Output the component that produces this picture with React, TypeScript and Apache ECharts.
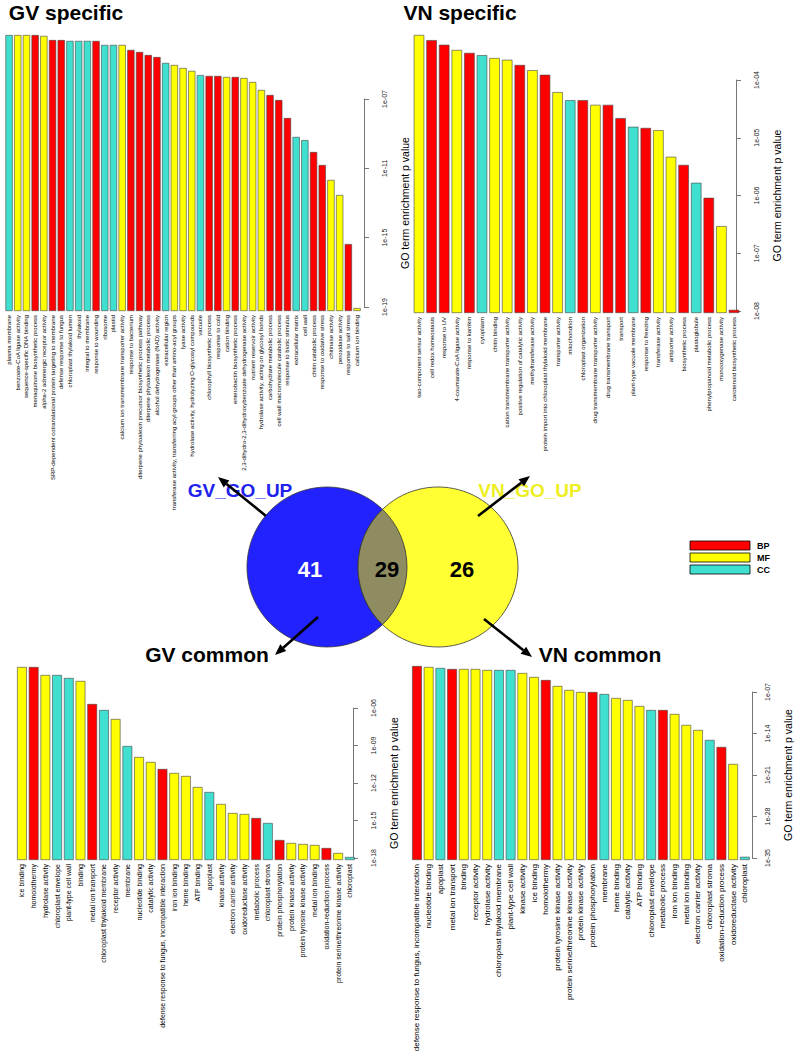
import React, { useEffect, useRef } from "react";
import * as echarts from "echarts";

const COLORS: Record<string, string> = { BP: "#FF0000", MF: "#FFFF00", CC: "#40E0D0" };

// ---------- GV specific ----------
const gvSpecificTerms = [
  "plasma membrane",
  "benzoate-CoA ligase activity",
  "sequence-specific DNA binding",
  "menaquinone biosynthetic process",
  "alpha-2 adrenergic receptor activity",
  "SRP-dependent cotranslational protein targeting to membrane",
  "defense response to fungus",
  "chloroplast thylakoid lumen",
  "thylakoid",
  "integral to membrane",
  "response to wounding",
  "ribosome",
  "plastid",
  "calcium ion transmembrane transporter activity",
  "response to bacterium",
  "diterpene phytoalexin precursor biosynthetic process pathway",
  "diterpene phytoalexin metabolic process",
  "alcohol dehydrogenase (NAD) activity",
  "extracellular region",
  "transferase activity, transferring acyl groups other than amino-acyl groups",
  "lyase activity",
  "hydrolase activity, hydrolyzing O-glycosyl compounds",
  "vacuole",
  "chlorophyll biosynthetic process",
  "response to cold",
  "cation binding",
  "enterobactin biosynthetic process",
  "2,3-dihydro-2,3-dihydroxybenzoate dehydrogenase activity",
  "nutrient reservoir activity",
  "hydrolase activity, acting on glycosyl bonds",
  "carbohydrate metabolic process",
  "cell wall macromolecule catabolic process",
  "response to biotic stimulus",
  "extracellular matrix",
  "cell wall",
  "chitin catabolic process",
  "response to oxidative stress",
  "chitinase activity",
  "peroxidase activity",
  "response to salt stress",
  "calcium ion binding",
];
const gvSpecificClass = [
  "CC", "MF", "MF", "BP", "MF", "BP", "BP", "CC", "CC", "CC", "BP", "CC", "CC", "MF", "BP", "BP", "BP", "BP", "CC", "MF",
  "MF", "MF", "CC", "BP", "BP", "MF", "BP", "MF", "MF", "MF", "BP", "BP", "BP", "CC", "CC", "BP", "BP", "MF", "MF", "BP", "MF",
];
const gvSpecificLog10P = [
  -3.31, -3.31, -3.31, -3.31, -3.36, -3.6, -3.6, -3.65, -3.65, -3.65, -3.65, -3.88, -3.88, -3.88, -4.17, -4.29, -4.46, -4.58,
  -4.92, -5.04, -5.21, -5.38, -5.62, -5.67, -5.67, -5.73, -5.73, -5.79, -6.02, -6.48, -6.77, -7.06, -8.1, -9.19, -9.37,
  -10.06, -10.81, -11.67, -12.54, -15.37, -19.06,
];
const gvSpecificTicks = [-19, -15, -11, -7];

// ---------- VN specific ----------
const vnSpecificTerms = [
  "two-component sensor activity",
  "cell redox homeostasis",
  "response to UV",
  "4-coumarate-CoA ligase activity",
  "response to karrikin",
  "cytoplasm",
  "chitin binding",
  "cation transmembrane transporter activity",
  "positive regulation of catalytic activity",
  "methyltransferase activity",
  "protein import into chloroplast thylakoid membrane",
  "transporter activity",
  "mitochondrion",
  "chloroplast organization",
  "drug transmembrane transporter activity",
  "drug transmembrane transport",
  "transport",
  "plant-type vacuole membrane",
  "response to freezing",
  "transferase activity",
  "antiporter activity",
  "biosynthetic process",
  "plastoglobule",
  "phenylpropanoid metabolic process",
  "monooxygenase activity",
  "carotenoid biosynthetic process",
];
const vnSpecificClass = [
  "MF", "BP", "BP", "MF", "BP", "CC", "MF", "MF", "BP", "MF", "BP", "MF", "CC", "BP", "MF", "BP", "BP", "CC", "BP", "MF",
  "MF", "BP", "CC", "BP", "MF", "BP",
];
const vnSpecificLog10P = [
  -3.22, -3.31, -3.39, -3.48, -3.53, -3.57, -3.62, -3.65, -3.74, -3.83, -3.91, -4.21, -4.35, -4.35, -4.43, -4.43, -4.66,
  -4.81, -4.83, -4.87, -5.33, -5.47, -5.78, -6.04, -6.53, -7.98,
];
const vnSpecificTicks = [-8, -7, -6, -5, -4];

// ---------- GV common ----------
const gvCommonTerms = [
  "ice binding",
  "homoiothermy",
  "hydrolase activity",
  "chloroplast envelope",
  "plant-type cell wall",
  "binding",
  "metal ion transport",
  "chloroplast thylakoid membrane",
  "receptor activity",
  "membrane",
  "nucleotide binding",
  "catalytic activity",
  "defense response to fungus, incompatible interaction",
  "iron ion binding",
  "heme binding",
  "ATP binding",
  "apoplast",
  "kinase activity",
  "electron carrier activity",
  "oxidoreductase activity",
  "metabolic process",
  "chloroplast stroma",
  "protein phosphorylation",
  "protein kinase activity",
  "protein tyrosine kinase activity",
  "metal ion binding",
  "oxidation-reduction process",
  "protein serine/threonine kinase activity",
  "chloroplast",
];
const gvCommonClass = [
  "MF", "BP", "MF", "CC", "CC", "MF", "BP", "CC", "MF", "CC", "MF", "MF", "BP", "MF", "MF", "MF", "CC", "MF", "MF", "MF",
  "BP", "CC", "BP", "MF", "MF", "MF", "BP", "MF", "CC",
];
const gvCommonLog10P = [
  -2.72, -2.72, -3.36, -3.36, -3.6, -3.84, -5.68, -6.16, -6.88, -9.04, -9.92, -10.32, -10.88, -11.2, -11.44, -12.32,
  -12.72, -13.68, -14.4, -14.48, -14.8, -15.2, -16.56, -16.8, -16.88, -16.96, -17.2, -17.6, -17.92,
];
const gvCommonTicks = [-18, -15, -12, -9, -6];

// ---------- VN common ----------
const vnCommonTerms = [
  "defense response to fungus, incompatible interaction",
  "nucleotide binding",
  "apoplast",
  "metal ion transport",
  "binding",
  "receptor activity",
  "hydrolase activity",
  "chloroplast thylakoid membrane",
  "plant-type cell wall",
  "kinase activity",
  "ice binding",
  "homoiothermy",
  "protein tyrosine kinase activity",
  "protein serine/threonine kinase activity",
  "protein kinase activity",
  "protein phosphorylation",
  "membrane",
  "heme binding",
  "catalytic activity",
  "ATP binding",
  "chloroplast envelope",
  "metabolic process",
  "iron ion binding",
  "metal ion binding",
  "electron carrier activity",
  "chloroplast stroma",
  "oxidation-reduction process",
  "oxidoreductase activity",
  "chloroplast",
];
const vnCommonClass = [
  "BP", "MF", "CC", "BP", "MF", "MF", "MF", "CC", "CC", "MF", "MF", "BP", "MF", "MF", "MF", "BP", "CC", "MF", "MF", "MF",
  "CC", "BP", "MF", "MF", "MF", "CC", "BP", "MF", "CC",
];
const vnCommonLog10P = [
  -2.62, -2.78, -2.95, -3.12, -3.12, -3.12, -3.29, -3.29, -3.29, -3.8, -4.47, -4.98, -5.99, -6.66, -7.0, -7.0, -7.34,
  -8.01, -8.35, -9.36, -10.04, -10.04, -10.71, -12.56, -13.41, -15.09, -16.27, -19.14, -34.8,
];
const vnCommonTicks = [-35, -28, -21, -14, -7];

// Venn counts
const vennCounts = { gvOnly: 41, both: 29, vnOnly: 26 };
const legendItems = ["BP", "MF", "CC"];

const FONT = "Liberation Sans";

const panels = [
  {
    title: "GV specific", terms: gvSpecificTerms, cls: gvSpecificClass, vals: gvSpecificLog10P, ticks: gvSpecificTicks,
    titleX: 66, titleY: 12, left: 4.7, pitch: 8.7, gridTop: 25, baselineY: 311, topTickY: 99, bottomTickY: 307,
    axisX: 374, labelFont: 6,
  },
  {
    title: "VN specific", terms: vnSpecificTerms, cls: vnSpecificClass, vals: vnSpecificLog10P, ticks: vnSpecificTicks,
    titleX: 460, titleY: 12, left: 412.7, pitch: 12.6, gridTop: 25, baselineY: 313, topTickY: 80, bottomTickY: 311,
    axisX: 746, labelFont: 6.0,
  },
  {
    title: "GV common", terms: gvCommonTerms, cls: gvCommonClass, vals: gvCommonLog10P, ticks: gvCommonTicks,
    titleX: 207, titleY: 654, left: 16.1, pitch: 11.71, gridTop: 655, baselineY: 860, topTickY: 708, bottomTickY: 858,
    axisX: 363, labelFont: 7,
  },
  {
    title: "VN common", terms: vnCommonTerms, cls: vnCommonClass, vals: vnCommonLog10P, ticks: vnCommonTicks,
    titleX: 600, titleY: 654, left: 411.1, pitch: 11.71, gridTop: 655, baselineY: 860, topTickY: 692, bottomTickY: 858,
    axisX: 762, labelFont: 8,
  },
];

const fmtExp = (e: number) => {
  const a = Math.round(Math.abs(e));
  return "1e" + (e < 0 ? "-" : "+") + String(a).padStart(2, "0");
};

let shapeRegistered = false;
function registerLens(cx1: number, cx2: number, cy: number, r: number) {
  if (shapeRegistered) return;
  const mx = (cx1 + cx2) / 2;
  const h = Math.sqrt(r * r - ((cx2 - cx1) / 2) ** 2);
  const d = `M ${mx} ${cy - h} A ${r} ${r} 0 0 1 ${mx} ${cy + h} A ${r} ${r} 0 0 1 ${mx} ${cy - h} Z`;
  echarts.graphic.registerShape("vennLens", echarts.graphic.extendPath(d, {}) as any);
  shapeRegistered = true;
}

function arrow(x1: number, y1: number, x2: number, y2: number) {
  const a = Math.atan2(y2 - y1, x2 - x1);
  const L = 11, W = 4.5;
  const bx = x2 - L * Math.cos(a);
  const by = y2 - L * Math.sin(a);
  const px = -Math.sin(a) * W;
  const py = Math.cos(a) * W;
  return [
    { type: "line", shape: { x1, y1, x2: bx, y2: by }, style: { stroke: "#000", lineWidth: 2.6 } },
    {
      type: "polygon",
      shape: { points: [[x2, y2], [bx + px, by + py], [bx - px, by - py]] },
      style: { fill: "#000" },
    },
  ];
}

function buildOption() {
  const grid: any[] = [];
  const xAxis: any[] = [];
  const yAxis: any[] = [];
  const series: any[] = [];

  panels.forEach((p, i) => {
    const n = p.terms.length;
    const t0 = p.ticks[0];
    const t1 = p.ticks[p.ticks.length - 1];
    const pxPerDec = (p.bottomTickY - p.topTickY) / (t1 - t0);
    const baseExp = t0 - (p.baselineY - p.bottomTickY) / pxPerDec;
    const gBar = i * 2;
    const gAx = i * 2 + 1;
    const barH = p.baselineY - p.gridTop;

    grid.push({ left: p.left, top: p.gridTop, width: p.pitch * n, height: barH, containLabel: false });
    grid.push({ left: p.axisX - 10, top: p.topTickY, width: 10, height: p.bottomTickY - p.topTickY, containLabel: false });

    xAxis.push({
      type: "category",
      gridIndex: gBar,
      data: p.terms,
      axisLine: { show: false },
      axisTick: { show: false },
      splitLine: { show: false },
      axisLabel: {
        interval: 0,
        rotate: 90,
        fontSize: p.labelFont,
        fontFamily: FONT,
        color: "#000",
        margin: 4,
      },
    });
    xAxis.push({ type: "value", gridIndex: gAx, show: false, min: 0, max: 1, splitLine: { show: false } });

    yAxis.push({
      type: "value",
      gridIndex: gBar,
      show: false,
      min: 0,
      max: barH / pxPerDec,
      splitLine: { show: false },
    });
    yAxis.push({
      type: "value",
      gridIndex: gAx,
      position: "right",
      min: 0,
      max: t1 - t0,
      interval: p.ticks[1] - p.ticks[0],
      splitLine: { show: false },
      axisLine: { show: true, lineStyle: { color: "#777", width: 1 } },
      axisTick: { show: true, inside: false, length: 5, lineStyle: { color: "#777", width: 1 } },
      axisLabel: {
        rotate: 90,
        fontSize: 7,
        fontFamily: FONT,
        color: "#222",
        margin: 7,
        formatter: (v: number) => fmtExp(t0 + v),
      },
      name: "GO term enrichment p value",
      nameLocation: "middle",
      nameRotate: 90,
      nameGap: 25,
      nameTextStyle: { fontSize: 10.5, fontFamily: FONT, color: "#000" },
    });

    series.push({
      type: "bar",
      xAxisIndex: gBar,
      yAxisIndex: gBar,
      barWidth: "83%",
      data: p.vals.map((v, k) => ({
        value: v - baseExp,
        itemStyle: { color: COLORS[p.cls[k]], borderColor: "#444", borderWidth: 0.6 },
      })),
    });
  });

  // Venn geometry
  const cy = 567, r = 80, cxL = 327, cxR = 438;
  registerLens(cxL, cxR, cy, r);

  const graphic: any[] = [];
  panels.forEach((p) => {
    graphic.push({
      type: "text",
      x: p.titleX,
      y: p.titleY,
      style: {
        text: p.title,
        fill: "#000",
        font: `bold 21px ${FONT}`,
        align: "center",
        verticalAlign: "middle",
      },
    });
  });

  graphic.push(
    { type: "circle", shape: { cx: cxL, cy, r }, style: { fill: "#2222FF", stroke: "#333", lineWidth: 0.8 } },
    { type: "circle", shape: { cx: cxR, cy, r }, style: { fill: "#FFFF33", stroke: "#333", lineWidth: 0.8 } },
    { type: "vennLens", x: 0, y: 0, style: { fill: "#8F8C62", stroke: "#333", lineWidth: 0.8 } },
    {
      type: "text", x: 310, y: 569,
      style: { text: String(vennCounts.gvOnly), fill: "#FFFFFF", font: `bold 22px ${FONT}`, align: "center", verticalAlign: "middle" },
    },
    {
      type: "text", x: 387, y: 569,
      style: { text: String(vennCounts.both), fill: "#000", font: `bold 22px ${FONT}`, align: "center", verticalAlign: "middle" },
    },
    {
      type: "text", x: 462, y: 569,
      style: { text: String(vennCounts.vnOnly), fill: "#000", font: `bold 22px ${FONT}`, align: "center", verticalAlign: "middle" },
    },
    {
      type: "text", x: 240, y: 490,
      style: { text: "GV_GO_UP", fill: "#2222EE", font: `bold 19px ${FONT}`, align: "center", verticalAlign: "middle" },
    },
    {
      type: "text", x: 530, y: 490,
      style: { text: "VN_GO_UP", fill: "#EEEE22", font: `bold 19px ${FONT}`, align: "center", verticalAlign: "middle" },
    },
    ...arrow(266, 516, 218, 477),
    ...arrow(478, 516, 530, 476),
    ...arrow(318, 617, 275, 655),
    ...arrow(484, 619, 532, 657)
  );

  legendItems.forEach((k, j) => {
    const y = 541 + j * 12;
    graphic.push(
      { type: "rect", shape: { x: 690, y, width: 60, height: 9 }, style: { fill: COLORS[k], stroke: "#000", lineWidth: 0.8 } },
      {
        type: "text", x: 757, y: y + 4.5,
        style: { text: k, fill: "#000", font: `bold 9px ${FONT}`, align: "left", verticalAlign: "middle" },
      }
    );
  });

  return {
    animation: false,
    backgroundColor: "#FFFFFF",
    grid,
    xAxis,
    yAxis,
    series,
    graphic,
  };
}

export default function App() {
  const ref = useRef<HTMLDivElement>(null);
  useEffect(() => {
    if (!ref.current) return;
    const chart = echarts.init(ref.current, undefined, { renderer: "svg" });
    chart.setOption(buildOption() as any);
    return () => chart.dispose();
  }, []);
  return (
    <div
      ref={ref}
      style={{ position: "absolute", left: 0, top: 0, width: 794, height: 1064, background: "#fff" }}
    />
  );
}
